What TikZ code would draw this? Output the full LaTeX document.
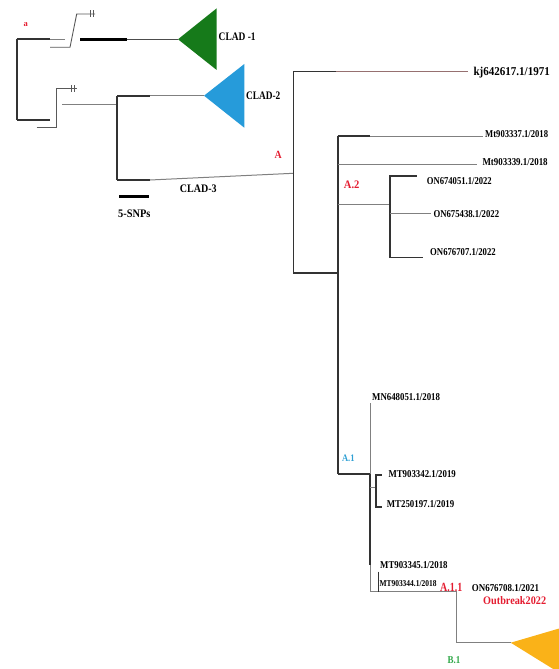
\documentclass[tikz,border=0pt]{standalone}
\usepackage{fontspec}
\usepackage{graphicx}
\setmainfont{Liberation Serif}
\usetikzlibrary{calc}
\definecolor{cladgreen}{RGB}{22,122,26}
\definecolor{cladblue}{RGB}{38,155,218}
\definecolor{cladorange}{RGB}{250,178,24}
\definecolor{tagred}{RGB}{228,28,48}
\definecolor{tagblue}{RGB}{48,160,212}
\definecolor{taggreen}{RGB}{48,168,72}
\definecolor{rootline}{RGB}{150,112,112}
% squeezed text, as in the figure
\newcommand{\slim}[2]{\scalebox{#1}[1]{#2}}

\begin{document}
\begin{tikzpicture}[x = 1pt, y = -1pt,
        stem/.style = {line width = 1.6pt, black!80},
        twig/.style = {line width = 1pt, black!50},
        heavy/.style = {line width = 3.2pt, black},
        brk/.style = {line width = 0.9pt, black!65},
        leaf/.style = {anchor = west, inner sep = 0pt, font = \bfseries\fontsize{10.5}{12}\selectfont},
        tag/.style = {inner sep = 0pt, font = \bfseries\fontsize{10}{12}\selectfont, tagred}]
        \useasboundingbox (0,0) rectangle (559,669);
        % points
        \coordinate (R) at (16.7,39.3);
        \coordinate (Rlow) at (16.7,120);
        \coordinate (C1) at (178,39.3);
        \coordinate (N2) at (117,104.3);
        \coordinate (N2top) at (117,95.7);
        \coordinate (N2low) at (117,180);
        \coordinate (C2) at (204,95.7);
        \coordinate (A) at (293.3,173.3);
        \coordinate (Atop) at (293.3,71.7);
        \coordinate (Alow) at (293.3,272.7);
        \coordinate (Bx) at (337.7,272.7);
        \coordinate (Btop) at (337.7,136);
        \coordinate (A1) at (337.7,474);
        \coordinate (A2) at (390,204.3);
        \coordinate (A1v) at (370,474);
        \coordinate (A1s) at (375.7,487.3);
        \coordinate (A11) at (456.7,591.7);
        \coordinate (B1) at (510.7,642.7);
        % fill
        \path[fill = cladgreen] (C1) -- (216.7,8.3) -- (216.7,70) -- cycle;
        \path[fill = cladblue] (C2) -- (244.3,64) -- (244.3,127.7) -- cycle;
        \begin{scope}
            \clip (0,0) rectangle (559,669);
            \path[fill = cladorange] (B1) -- (600,616.5) -- (600,698) -- cycle;
        \end{scope}
        % outgroup with broken branches
        \path[draw, stem] (R) -- (Rlow);
        \path[draw, stem] (R) -- (50,39.3);
        \path[draw, twig] (50,39.3) -- (65,39.3);
        \path[draw, stem] (Rlow) -- (50,120);
        \path[draw, brk] (50,47.3) -- (70,47.3) -- (76.7,14) -- (95,14);
        \path[draw, brk] (90.5,10.5) -- (90.5,17.5) (93.5,10.5) -- (93.5,17.5);
        \path[draw, heavy] (80,39.3) -- (126.7,39.3);
        \path[draw, line width = 1.2pt, black!70] (126.7,39.3) -- (C1);
        \path[draw, brk] (36.7,127.7) -- (56.7,127.7) -- (56.7,88.3) -- (76.7,88.3);
        \path[draw, brk] (71.2,85) -- (71.2,91.6) (74.2,85) -- (74.2,91.6);
        \path[draw, twig] (62.3,104.3) -- (N2);
        \path[draw, stem] (N2top) -- (N2low);
        \path[draw, stem] (N2top) -- (150,95.7);
        \path[draw, twig] (150,95.7) -- (C2);
        \path[draw, stem] (N2low) -- (150,180);
        \path[draw, twig] (150,180) -- (A);
        % clade A
        \path[draw, stem] (Atop) -- (Alow) -- (Bx);
        \path[draw, stem] (Atop) -- (336,71.7);
        \path[draw, line width = 1pt, rootline] (336,71.7) -- (468.3,71.7);
        \path[draw, stem] (Btop) -- (A1);
        \path[draw, stem] (Btop) -- (370,136);
        \path[draw, twig] (370,136) -- (483.3,136);
        \path[draw, twig] (337.7,164.3) -- (476.7,164.3);
        \path[draw, twig] (337.7,204.3) -- (A2);
        \path[draw, stem] (416.7,176) -- (390,176) -- (390,257.3) -- (423,257.3);
        \path[draw, twig] (390,213) -- (431,213);
        % clade A.1
        \path[draw, stem] (A1) -- (A1v);
        \path[draw, twig] (370,403) -- (A1v);
        \path[draw, stem] (A1v) -- (370,565);
        \path[draw, twig] (370,565) -- (370,591.7) -- (A11);
        \path[draw, twig] (370,487.3) -- (A1s);
        \path[draw, stem] (381.7,475) -- (375.7,475) -- (375.7,506.7) -- (381.7,506.7);
        \path[draw, stem] (378.3,571.7) -- (378.3,591.7);
        \path[draw, twig] (A11) -- (456.7,642.7) -- (B1);
        % scale
        \path[draw, heavy] (119.3,196.7) -- (149,196.7);
        % labels
        \node[tag, font = \bfseries\fontsize{8.5}{10}\selectfont] (ta) at (25.7,24.3) {a};
        \node[leaf, font = \bfseries\fontsize{11.5}{13}\selectfont] (l1) at (218.5,37) {\slim{0.82}{CLAD -1}};
        \node[leaf, font = \bfseries\fontsize{11.5}{13}\selectfont] (l2) at (246,96) {\slim{0.81}{CLAD-2}};
        \node[inner sep = 0pt, font = \bfseries\fontsize{11.5}{13}\selectfont] (l3) at (198.3,188.3) {\slim{0.87}{CLAD-3}};
        \node[inner sep = 0pt, font = \bfseries\fontsize{11.5}{13}\selectfont] (snp) at (134.3,213.3) {\slim{0.9}{5-SNPs}};
        \node[tag, font = \bfseries\fontsize{11}{13}\selectfont] (tA) at (278.3,155) {\slim{0.9}{A}};
        \node[tag, font = \bfseries\fontsize{11.5}{13}\selectfont] (tA2) at (351.7,185) {\slim{0.92}{A.2}};
        \node[tag, tagblue, font = \bfseries\fontsize{10}{12}\selectfont] (tA1) at (348.3,458.3) {\slim{0.85}{A.1}};
        \node[tag, anchor = west, font = \bfseries\fontsize{12.5}{14}\selectfont] (tA11) at (440,587) {\slim{0.8}{A.1.1}};
        \node[tag, taggreen, font = \bfseries\fontsize{10.5}{12}\selectfont] (tB1) at (454,660) {\slim{0.86}{B.1}};
        \node[leaf, font = \bfseries\fontsize{12}{14}\selectfont] (k1) at (473.3,73) {\slim{0.92}{kj642617.1/1971}};
        \node[leaf] (m1) at (485,134) {\slim{0.82}{Mt903337.1/2018}};
        \node[leaf] (m2) at (482.3,162) {\slim{0.85}{Mt903339.1/2018}};
        \node[leaf] (o1) at (426.7,180.7) {\slim{0.82}{ON674051.1/2022}};
        \node[leaf] (o2) at (433.3,214.3) {\slim{0.83}{ON675438.1/2022}};
        \node[leaf] (o3) at (430,252.3) {\slim{0.83}{ON676707.1/2022}};
        \node[leaf] (n1) at (372,397) {\slim{0.84}{MN648051.1/2018}};
        \node[leaf] (t1) at (388.3,474) {\slim{0.84}{MT903342.1/2019}};
        \node[leaf] (t2) at (386.7,504) {\slim{0.84}{MT250197.1/2019}};
        \node[leaf] (t3) at (380,565) {\slim{0.84}{MT903345.1/2018}};
        \node[leaf, font = \bfseries\fontsize{9}{10}\selectfont] (t4) at (379.3,584) {\slim{0.83}{MT903344.1/2018}};
        \node[leaf] (o4) at (471.7,588.3) {\slim{0.85}{ON676708.1/2021}};
        \node[tag, anchor = west, font = \bfseries\fontsize{11.5}{13}\selectfont] (ob) at (483,600.5) {\slim{0.89}{Outbreak2022}};
    \end{tikzpicture}
\end{document}
